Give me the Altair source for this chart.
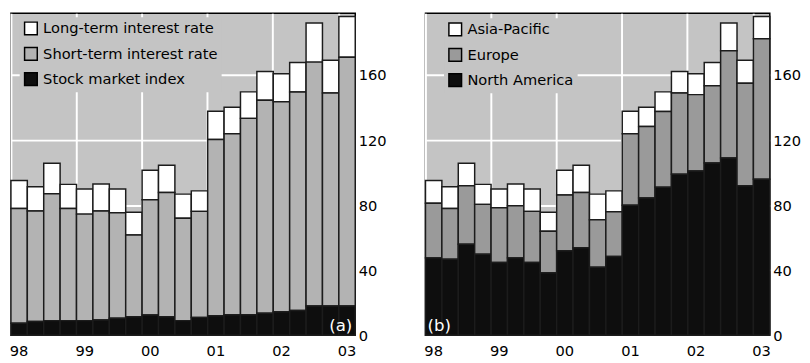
import altair as alt
import pandas as pd

quarters = ["98Q1", "98Q2", "98Q3", "98Q4", "99Q1", "99Q2", "99Q3", "99Q4",
            "00Q1", "00Q2", "00Q3", "00Q4", "01Q1", "01Q2", "01Q3", "01Q4",
            "02Q1", "02Q2", "02Q3", "02Q4", "03Q1"]
year_ticks = ["98Q1", "99Q1", "00Q1", "01Q1", "02Q1", "03Q1"]
y_ticks = [0, 40, 80, 120, 160]

# Panel (a)
series_a = ["Long-term interest rate", "Short-term interest rate", "Stock market index"]
long_rate = [17.2, 14.9, 18.8, 14.8, 15.5, 16.6, 14.6, 14.0, 18.2, 16.8, 14.8,
             12.6, 17.4, 16.3, 16.3, 17.6, 17.2, 18.2, 24.0, 20.2, 25.0]
short_rate = [70.6, 68.0, 78.0, 69.0, 65.5, 67.0, 65.0, 50.2, 70.9, 76.4, 63.0,
              65.2, 108.4, 111.4, 120.8, 131.0, 129.2, 134.4, 150.0, 131.0, 153.0]
stock_index = [7.4, 8.4, 9.0, 9.0, 9.0, 9.4, 10.4, 11.4, 12.4, 11.4, 9.0,
               11.0, 12.0, 12.6, 12.6, 13.6, 14.4, 15.2, 18.0, 18.0, 18.0]

# Panel (b)
series_b = ["Asia-Pacific", "Europe", "North America"]
asia_pacific = [14.0, 13.3, 13.8, 12.3, 11.6, 13.3, 13.8, 11.6, 15.2, 16.8, 15.8,
                12.8, 13.8, 11.9, 12.1, 13.2, 12.8, 14.4, 17.0, 14.2, 13.6]
europe = [33.6, 31.2, 36.0, 30.7, 33.6, 32.1, 31.4, 25.5, 34.3, 34.0, 29.2,
          27.5, 44.0, 44.0, 46.6, 50.0, 47.0, 47.4, 66.0, 63.0, 86.4]
north_america = [47.6, 46.8, 56.0, 49.8, 44.8, 47.6, 44.8, 38.5, 52.0, 53.8, 41.8,
                 48.5, 80.0, 84.4, 91.0, 99.0, 101.0, 106.0, 109.0, 92.0, 96.0]

colors_a = ["#ffffff", "#b3b3b3", "#0e0e0e"]
colors_b = ["#ffffff", "#9a9a9a", "#0e0e0e"]
BG = "#c4c4c4"
FONT = "DejaVu Sans"
W, H = 353, 330


def long_table(cols, names):
    rows = []
    n = len(names)
    for i, q in enumerate(quarters):
        for k, (name, vals) in enumerate(zip(names, cols)):
            rows.append({"quarter": q, "series": name, "value": vals[i], "stack": n - 1 - k})
    return pd.DataFrame(rows)


def panel(df, names, colors, tag, tag_align, tag_x, lx, ly):
    color = alt.Color(
        "series:N",
        scale=alt.Scale(domain=names, range=colors),
        title=None,
        legend=alt.Legend(
            orient="none", legendX=lx, legendY=ly, fillColor=BG, padding=4,
            symbolType="square", symbolSize=169, symbolStrokeColor="black",
            symbolStrokeWidth=1.5, symbolOpacity=1,
            labelFont=FONT, labelFontSize=15, labelColor="black", labelOffset=5,
            rowPadding=7, labelLimit=400,
        ),
    )
    bars = alt.Chart(df).mark_bar(stroke="#1c1c1c", strokeWidth=1.5, opacity=1).encode(
        x=alt.X(
            "quarter:N", sort=quarters, title=None,
            scale=alt.Scale(paddingInner=0, paddingOuter=0),
            axis=alt.Axis(values=year_ticks, bandPosition=0,
                          labelExpr="substring(datum.label, 0, 2)", grid=True,
                          labelAngle=0, labelPadding=9, zindex=0),
        ),
        y=alt.Y(
            "value:Q", stack="zero", title=None,
            scale=alt.Scale(domain=[0, 198], nice=False),
            axis=alt.Axis(orient="right", values=y_ticks, grid=True, labelPadding=3, zindex=0),
        ),
        color=color,
        order=alt.Order("stack:Q", sort="ascending"),
    )
    tag_layer = alt.Chart(pd.DataFrame({"tag": [tag]})).mark_text(
        color="white", font=FONT, fontSize=17, align=tag_align, baseline="middle"
    ).encode(text="tag:N", x=alt.value(tag_x), y=alt.value(321))
    return alt.layer(bars, tag_layer).properties(width=W, height=H)


panel_a = panel(long_table([long_rate, short_rate, stock_index], series_a),
                series_a, colors_a, "(a)", "right", 350, 9, 4)
panel_b = panel(long_table([asia_pacific, europe, north_america], series_b),
                series_b, colors_b, "(b)", "left", 2, 19, 5)

chart = alt.hconcat(panel_a, panel_b, spacing=36).resolve_scale(
    color="independent"
).properties(padding=0).configure_view(
    fill=BG, stroke="black", strokeWidth=1.5
).configure_axis(
    labelFont=FONT, labelFontSize=15, labelColor="black", domain=False, ticks=False,
    gridColor="white", gridWidth=2, gridOpacity=1
)

chart.save("out.html", embed_options={"renderer": "svg", "actions": False})
